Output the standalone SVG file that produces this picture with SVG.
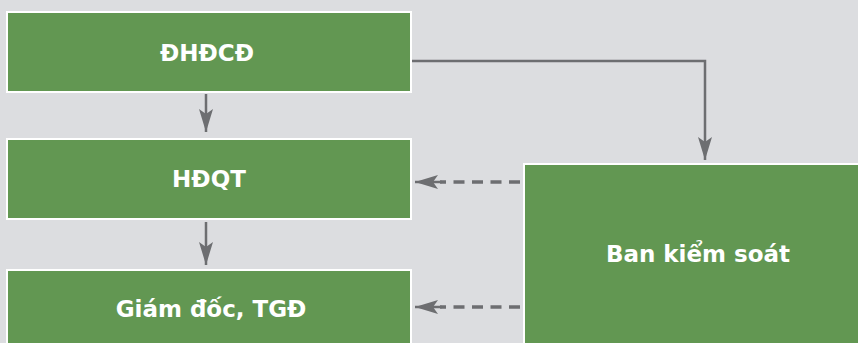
<svg xmlns="http://www.w3.org/2000/svg" width="858" height="343" viewBox="0 0 858 343">
<style>
.box{fill:#629752;stroke:#ffffff;stroke-width:2}
.lbl{fill:#ffffff;font-family:"DejaVu Sans","Liberation Sans",sans-serif;font-weight:bold;font-size:23px;text-anchor:middle}
.solid{fill:none;stroke:#6d6e71;stroke-width:2.5}
.dash{fill:none;stroke:#6d6e71;stroke-width:3.5;stroke-dasharray:11 7.5}
</style>
<defs>
<marker id="ah" markerUnits="userSpaceOnUse" markerWidth="24" markerHeight="16" viewBox="0 0 24 16" refX="23" refY="8" orient="auto">
<path d="M0,1 L23,8 L0,15 L5,8 Z" fill="#6d6e71"/>
</marker>
</defs>
<rect width="858" height="343" fill="#dcdde0"/>
<g id="connectors">
<path class="solid" d="M206,94 V132" marker-end="url(#ah)"/>
<path class="solid" d="M206,222 V265" marker-end="url(#ah)"/>
<path class="solid" d="M412,61 H705 V160" marker-end="url(#ah)"/>
<path class="dash" d="M520,182 H440"/>
<path class="solid" d="M442,182 H415" marker-end="url(#ah)"/>
<path class="dash" d="M520,307 H440"/>
<path class="solid" d="M442,307 H415" marker-end="url(#ah)"/>
</g>
<g id="dhdcd">
<rect class="box" x="7" y="12" width="404" height="80"/>
<text class="lbl" x="207" y="61">ĐHĐCĐ</text>
</g>
<g id="hdqt">
<rect class="box" x="7" y="139" width="404" height="80"/>
<text class="lbl" x="209" y="187">HĐQT</text>
</g>
<g id="giamdoc">
<rect class="box" x="7" y="270" width="404" height="80"/>
<text class="lbl" x="211" y="317">Giám đốc, TGĐ</text>
</g>
<g id="bks">
<rect class="box" x="524" y="164" width="340" height="190"/>
<text class="lbl" x="698" y="262">Ban kiểm soát</text>
</g>
</svg>
